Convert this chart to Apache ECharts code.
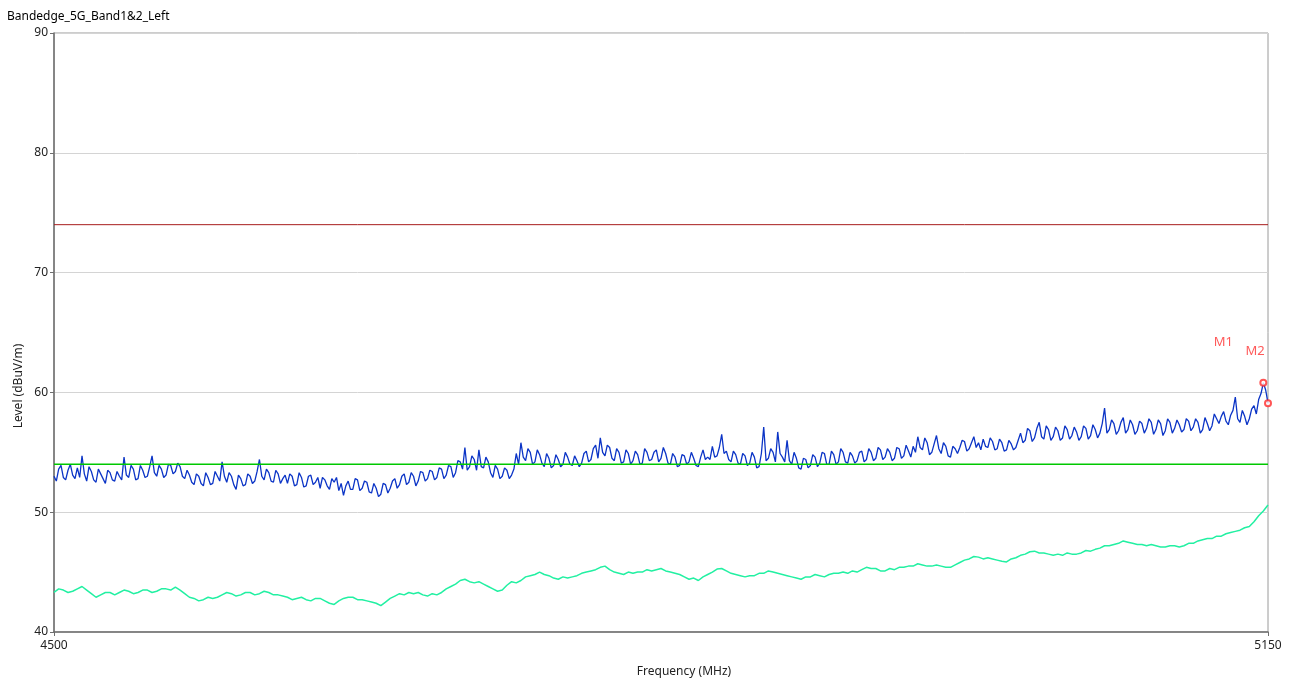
<!DOCTYPE html>
<html>
<head>
<meta charset="utf-8">
<title>Bandedge_5G_Band1&2_Left</title>
<script src="https://cdn.jsdelivr.net/npm/echarts@6/dist/echarts.min.js"></script>
<style>
  html, body { margin: 0; padding: 0; background: #fff; }
  #chart { width: 1291px; height: 684px; }
</style>
</head>
<body>
<div id="chart"></div>
<script>
// frequency grid (MHz)
var freqMin = 4500;
var freqMax = 5150;
var peakStep = 2.5;   // step of the peak trace
var avgStep = 5;      // step of the average trace

// peak trace, dBuV/m, 4500 .. 5150 every 2.5 MHz
var peakLevel = [
  53.0, 53.6, 52.9, 53.5, 53.1, 53.7, 54.7, 52.6, 53.4, 52.5, 53.2, 52.4, 53.3, 52.6, 53.0, 54.6, 52.9, 53.6, 52.8, 53.5,
  53.0, 54.7, 53.0, 53.6, 53.1, 53.9, 53.4, 53.8, 52.8, 53.1, 52.3, 53.0, 52.2, 52.9, 52.4, 53.0, 54.2, 52.5, 53.0, 51.9,
  52.8, 52.3, 53.0, 52.6, 54.4, 52.7, 53.3, 52.5, 53.2, 52.8, 52.4, 53.0, 52.3, 52.9, 52.2, 53.1, 52.5, 52.0, 52.7, 51.9,
  52.5, 51.8, 51.4, 52.6, 51.9, 52.7, 52.0, 52.5, 51.6, 52.0, 51.5, 52.3, 52.0, 52.8, 52.3, 53.2, 52.5, 53.0, 52.6, 53.3,
  52.8, 53.4, 52.9, 53.6, 53.1, 53.8, 53.3, 54.2, 55.4, 53.8, 54.4, 55.2, 53.7, 54.2, 52.9, 53.6, 53.0, 53.5, 53.1, 54.9,
  55.8, 54.3, 55.0, 54.2, 54.8, 53.8, 54.5, 53.9, 54.4, 54.0, 54.6, 53.9, 54.3, 54.1, 55.1, 54.4, 55.6, 56.2, 54.7, 55.4,
  54.3, 55.0, 54.2, 54.9, 54.3, 54.8, 54.1, 55.0, 54.4, 55.2, 54.5, 54.9, 54.0, 54.6, 53.9, 54.7, 54.2, 54.5, 53.8, 55.2,
  54.6, 55.5, 54.7, 56.5, 55.1, 54.2, 54.8, 54.0, 54.7, 54.1, 54.6, 53.8, 57.1, 54.5, 55.0, 56.7, 54.6, 56.0, 54.0, 54.5,
  53.6, 54.4, 53.9, 54.6, 54.1, 54.9, 54.0, 54.8, 54.2, 55.0, 54.1, 54.7, 54.3, 55.1, 54.4, 55.0, 54.5, 55.2, 54.6, 55.0,
  54.5, 55.3, 54.7, 55.1, 55.5, 56.3, 55.2, 55.8, 55.0, 56.4, 54.9, 55.5, 54.6, 55.3, 55.4, 55.9, 55.3, 56.3, 55.8, 56.1,
  55.4, 55.9, 55.3, 55.8, 55.2, 55.7, 55.4, 56.6, 56.0, 56.8, 56.2, 57.5, 56.1, 56.9, 56.3, 56.8, 56.2, 56.9, 56.4, 56.7,
  56.3, 57.0, 56.4, 56.9, 56.6, 58.7, 56.9, 57.4, 56.8, 57.9, 56.9, 57.3, 56.8, 57.4, 57.0, 57.5, 56.9, 57.4, 56.8, 57.5,
  57.0, 57.3, 56.9, 57.6, 57.1, 57.5, 56.9, 57.4, 57.2, 57.8, 58.0, 57.6, 58.1, 59.6, 57.5, 58.0, 57.8, 58.9, 59.4, 60.8,
  59.1
];

// peak trace, readings half a step later (4501.25, 4503.75, ...)
var peakLevelMid = [
  52.6, 53.9, 52.7, 54.0, 52.8, 52.9, 53.2, 53.8, 52.7, 53.6, 52.8, 53.5, 52.7, 53.4, 52.7, 53.1, 53.9, 52.7, 53.9, 52.9,
  53.8, 53.3, 53.9, 52.9, 54.0, 53.2, 54.1, 53.0, 53.5, 52.5, 53.2, 52.4, 53.3, 52.3, 53.4, 52.6, 53.0, 53.3, 52.3, 53.1,
  52.2, 53.2, 52.4, 53.4, 53.0, 53.6, 52.6, 53.5, 52.4, 53.1, 53.2, 52.2, 53.3, 52.1, 53.0, 52.3, 52.9, 52.9, 52.2, 52.8,
  52.9, 52.4, 52.2, 51.9, 52.8, 51.8, 52.6, 51.7, 52.4, 51.3, 52.4, 51.6, 52.6, 52.0, 53.0, 52.3, 53.3, 52.2, 53.4, 52.6,
  53.5, 52.7, 53.7, 52.8, 53.9, 52.9, 54.3, 53.6, 53.5, 54.7, 53.5, 53.8, 54.6, 53.3, 53.9, 52.8, 53.7, 52.8, 53.6, 54.0,
  54.6, 55.3, 54.0, 55.2, 54.1, 54.9, 53.7, 54.8, 53.8, 55.0, 54.0, 54.7, 53.8, 54.9, 54.2, 55.3, 54.5, 55.0, 55.6, 54.5,
  55.3, 54.1, 55.2, 54.0, 55.1, 54.0, 55.3, 54.3, 55.0, 54.2, 55.4, 54.1, 54.9, 53.8, 54.8, 54.0, 55.0, 53.9, 54.6, 54.4,
  54.4, 54.6, 55.4, 54.9, 54.4, 55.1, 54.1, 54.9, 53.9, 55.0, 53.7, 54.9, 54.3, 55.3, 54.2, 54.9, 54.2, 54.3, 55.0, 53.7,
  54.5, 53.7, 54.8, 53.8, 55.0, 54.0, 55.1, 54.0, 55.3, 54.2, 55.0, 54.1, 55.0, 54.2, 55.3, 54.3, 55.4, 54.4, 55.3, 54.3,
  55.4, 54.5, 55.6, 54.6, 55.0, 55.4, 56.2, 54.8, 55.7, 55.3, 55.8, 54.7, 55.5, 54.9, 56.0, 55.1, 55.8, 55.4, 55.2, 55.5,
  56.2, 55.2, 56.1, 55.1, 56.0, 55.2, 56.0, 55.8, 57.0, 55.9, 57.0, 56.3, 57.2, 56.0, 57.1, 56.0, 57.2, 56.1, 57.1, 56.0,
  57.2, 56.1, 57.3, 56.2, 57.4, 56.6, 57.7, 56.5, 57.5, 56.6, 57.7, 56.5, 57.6, 56.6, 57.8, 56.5, 57.7, 56.4, 57.8, 56.6,
  57.7, 56.7, 57.8, 56.8, 57.8, 56.6, 57.9, 56.8, 58.2, 57.4, 58.4, 57.3, 58.5, 57.8, 58.5, 57.3, 58.6, 58.2, 59.9, 60.2
];

// average trace, dBuV/m, 4500 .. 5150 every 5 MHz
var avgLevel = [
  43.3, 43.5, 43.4, 43.8, 43.2, 43.1, 43.3, 43.3, 43.4, 43.3,
  43.5, 43.4, 43.6, 43.75, 43.2, 42.8, 42.7, 42.8, 43.1, 43.2,
  43.1, 43.3, 43.2, 43.3, 43.1, 42.9, 42.8, 42.7, 42.8, 42.6,
  42.3, 42.8, 42.9, 42.7, 42.5, 42.2, 42.8, 43.2, 43.3, 43.3,
  43.0, 43.1, 43.6, 44.0, 44.4, 44.1, 44.0, 43.6, 43.5, 44.2,
  44.3, 44.7, 45.0, 44.7, 44.4, 44.5, 44.7, 45.0, 45.2, 45.5,
  45.0, 44.8, 44.9, 45.0, 45.1, 45.3, 45.0, 44.8, 44.4, 44.3,
  44.8, 45.25, 45.1, 44.8, 44.6, 44.7, 44.9, 45.0, 44.8, 44.6,
  44.4, 44.6, 44.7, 44.8, 44.9, 44.9, 45.0, 45.4, 45.3, 45.1,
  45.2, 45.4, 45.5, 45.6, 45.5, 45.5, 45.4, 45.8, 46.1, 46.25,
  46.2, 46.0, 45.85, 46.2, 46.5, 46.75, 46.6, 46.4, 46.4, 46.5,
  46.6, 46.75, 47.0, 47.2, 47.4, 47.5, 47.3, 47.2, 47.2, 47.1,
  47.2, 47.2, 47.4, 47.7, 47.8, 48.0, 48.3, 48.5, 48.8, 49.7,
  50.6
];

// average trace, readings half a step later (4502.5, 4507.5, ...)
var avgLevelMid = [
  43.6, 43.3, 43.6, 43.5, 42.9, 43.3, 43.1, 43.5, 43.2, 43.5,
  43.3, 43.6, 43.5, 43.5, 42.9, 42.6, 42.9, 42.9, 43.3, 43.0,
  43.3, 43.1, 43.4, 43.1, 43.0, 42.7, 42.9, 42.6, 42.8, 42.4,
  42.6, 42.9, 42.7, 42.6, 42.4, 42.5, 43.0, 43.1, 43.2, 43.1,
  43.2, 43.3, 43.8, 44.3, 44.2, 44.2, 43.8, 43.4, 43.9, 44.1,
  44.6, 44.8, 44.8, 44.5, 44.6, 44.6, 44.9, 45.1, 45.4, 45.2,
  44.9, 45.0, 45.0, 45.2, 45.2, 45.1, 44.9, 44.6, 44.5, 44.6,
  45.0, 45.3, 44.9, 44.7, 44.7, 44.9, 45.1, 44.9, 44.7, 44.5,
  44.6, 44.8, 44.6, 44.9, 45.0, 45.1, 45.2, 45.3, 45.1, 45.3,
  45.4, 45.5, 45.7, 45.5, 45.6, 45.4, 45.6, 46.0, 46.3, 46.1,
  46.1, 45.9, 46.1, 46.4, 46.7, 46.6, 46.5, 46.5, 46.6, 46.5,
  46.8, 46.9, 47.2, 47.3, 47.6, 47.4, 47.3, 47.3, 47.1, 47.2,
  47.1, 47.4, 47.6, 47.8, 48.0, 48.2, 48.4, 48.7, 49.2, 50.1
];

// limit lines
var peakLimit = 74;
var avgLimit = 54;

// markers
var markerNames = ['M1', 'M2'];
var markerFreq = [5147.5, 5150];
var markerLevel = [60.8, 59.1];

var yTicks = [40, 50, 60, 70, 80, 90];

// merge on-grid readings with the half-step readings into [freq, level] pairs
function toPairs(values, mids, step) {
  var out = [];
  for (var i = 0; i < values.length; i++) {
    out.push([freqMin + i * step, values[i]]);
    if (i < mids.length) out.push([freqMin + (i + 0.5) * step, mids[i]]);
  }
  return out;
}

var labelOffsets = [[-40, -41], [-13, -52]];
var markerData = markerNames.map(function (n, i) {
  return {
    name: n,
    value: [markerFreq[i], markerLevel[i]],
    label: { offset: labelOffsets[i] }
  };
});

var font = 'Noto Sans, DejaVu Sans, sans-serif';
var chart = echarts.init(document.getElementById('chart'));
chart.setOption({
  animation: false,
  backgroundColor: '#ffffff',
  textStyle: { fontFamily: font },
  title: {
    text: 'Bandedge_5G_Band1&2_Left',
    left: 2,
    top: 6,
    textStyle: { fontSize: 12, fontWeight: 'normal', color: '#000' }
  },
  grid: {
    left: 54,
    right: 23,
    top: 33,
    bottom: 52,
    show: true,
    borderColor: '#9a9a9a',
    borderWidth: 1
  },
  xAxis: {
    type: 'value',
    min: freqMin,
    max: freqMax,
    splitLine: { show: false },
    axisLine: { onZero: false, lineStyle: { color: '#6e6e6e', width: 1.5 } },
    axisTick: {
      show: true,
      length: 4,
      customValues: [freqMin, freqMax],
      lineStyle: { color: '#6e6e6e' }
    },
    axisLabel: {
      customValues: [freqMin, freqMax],
      formatter: function (v) { return String(v); },
      color: '#222',
      fontSize: 12,
      margin: 8
    }
  },
  yAxis: {
    type: 'value',
    min: 40,
    max: 90,
    interval: 10,
    splitLine: { show: true, lineStyle: { color: '#d4d4d4', width: 1 } },
    axisLine: { show: true, onZero: false, lineStyle: { color: '#6e6e6e', width: 1.5 } },
    axisTick: { show: true, length: 4, lineStyle: { color: '#6e6e6e' } },
    axisLabel: {
      color: '#222',
      fontSize: 12,
      margin: 6,
      customValues: yTicks
    }
  },
  graphic: [
    {
      type: 'text',
      x: 19,
      y: 386,
      rotation: Math.PI / 2,
      style: {
        text: 'Level (dBuV/m)',
        fill: '#222',
        font: '12px ' + font,
        align: 'center',
        verticalAlign: 'middle'
      }
    },
    {
      type: 'text',
      x: 684,
      y: 672,
      style: {
        text: 'Frequency (MHz)',
        fill: '#222',
        font: '12px ' + font,
        align: 'center',
        verticalAlign: 'middle'
      }
    }
  ],
  series: [
    {
      name: 'Peak Limit',
      type: 'line',
      symbol: 'none',
      z: 2,
      lineStyle: { color: '#a81c1c', width: 1 },
      data: [[freqMin, peakLimit], [freqMax, peakLimit]]
    },
    {
      name: 'Average',
      type: 'line',
      symbol: 'none',
      z: 3,
      lineStyle: { color: '#22f0a2', width: 1.5 },
      data: toPairs(avgLevel, avgLevelMid, avgStep)
    },
    {
      name: 'Peak',
      type: 'line',
      symbol: 'none',
      z: 4,
      lineStyle: { color: '#0b34c6', width: 1.3 },
      data: toPairs(peakLevel, peakLevelMid, peakStep)
    },
    {
      name: 'Average Limit',
      type: 'line',
      symbol: 'none',
      z: 5,
      lineStyle: { color: '#00c800', width: 1.5 },
      data: [[freqMin, avgLimit], [freqMax, avgLimit]]
    },
    {
      name: 'Markers',
      type: 'scatter',
      z: 6,
      symbol: 'emptyCircle',
      symbolSize: 6,
      itemStyle: { color: '#ff2a2a', borderColor: '#ff2a2a', borderWidth: 1.5 },
      label: {
        show: true,
        formatter: '{b}',
        color: '#ff3030',
        fontSize: 13,
        position: 'inside'
      },
      data: markerData
    }
  ]
});
</script>
</body>
</html>
